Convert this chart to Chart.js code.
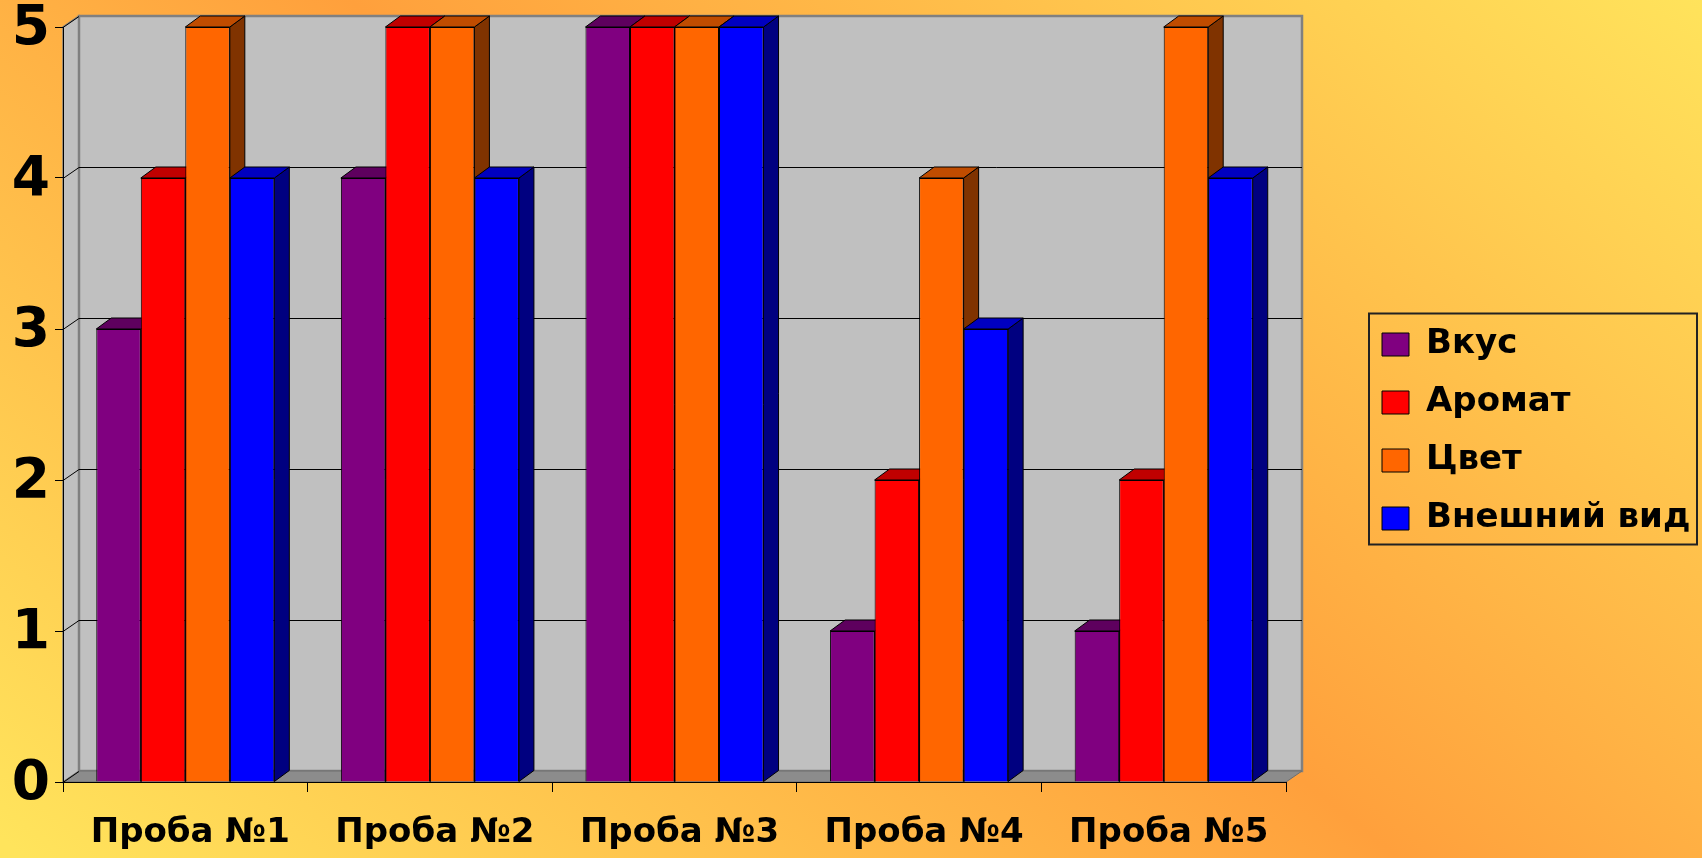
<!DOCTYPE html>
<html>
<head>
<meta charset="utf-8">
<script src="https://cdn.jsdelivr.net/npm/chart.js@4"></script>
<style>
html,body{margin:0;padding:0;overflow:hidden;background:#FFC04A;}
#wrap{width:1702px;height:858px;position:relative;}
</style>
</head>
<body>
<div id="wrap"><canvas id="c"></canvas></div>
<script>
// ---- data ----
const categories = ['Проба №1', 'Проба №2', 'Проба №3', 'Проба №4', 'Проба №5'];
const seriesNames = ['Вкус', 'Аромат', 'Цвет', 'Внешний вид'];
const tasteValues = [3, 4, 5, 1, 1];
const aromaValues = [4, 5, 5, 2, 2];
const colourValues = [5, 5, 5, 4, 5];
const appearanceValues = [4, 4, 5, 3, 4];
const yTickLabels = ['0', '1', '2', '3', '4', '5'];

// ---- styles / layout ----
const frontColors = ['#800080', '#FF0000', '#FF6600', '#0000FF'];
const topColors = ['#5E005E', '#C00000', '#C04C00', '#0000C0'];
const sideColors = ['#400040', '#800000', '#803300', '#000080'];
const WALL = {dx: 16, dy: -11};
const BAR = {dx: 15, dy: -11};
const FONT = 'DejaVu Sans';
const LEGEND_SPACE = 416;  // room kept at the right for the gap + legend
const LEGEND_SHIFT = 72;   // gap between the plot and the legend column

const seriesValues = [tasteValues, aromaValues, colourValues, appearanceValues];

const scene3d = {
  id: 'scene3d',
  beforeUpdate(chart) {
    const lg = chart.legend;
    if (lg && !lg.__wrapped) {
      const orig = lg.fit;
      lg.fit = function () {
        orig.call(this);
        if (!this.isHorizontal()) this.width = LEGEND_SPACE;
      };
      lg.__wrapped = true;
    }
  },
  afterLayout(chart) {
    const lg = chart.legend;
    if (lg) { lg.left += LEGEND_SHIFT; lg.right += LEGEND_SHIFT; }
  },
  beforeDraw(chart) {
    const {ctx, width, height, chartArea} = chart;
    const ys = chart.scales.y;
    ctx.save();
    // background gradient
    const g = ctx.createLinearGradient(-201, 673, 901, -673);
    g.addColorStop(0, '#FFE45C');
    g.addColorStop(0.5, '#FFA03C');
    g.addColorStop(1, '#FFE45C');
    ctx.fillStyle = g;
    ctx.fillRect(0, 0, width, height);

    const L = chartArea.left, R = chartArea.right;
    const T = ys.getPixelForValue(ys.max), B = ys.getPixelForValue(ys.min);
    const dx = WALL.dx, dy = WALL.dy;
    // side wall
    ctx.beginPath();
    ctx.moveTo(L, B); ctx.lineTo(L, T); ctx.lineTo(L + dx, T + dy); ctx.lineTo(L + dx, B + dy); ctx.closePath();
    ctx.fillStyle = '#C0C0C0'; ctx.fill();
    ctx.strokeStyle = '#808080'; ctx.lineWidth = 1.5; ctx.stroke();
    // back wall
    ctx.fillStyle = '#C0C0C0';
    ctx.fillRect(L + dx, T + dy, R - L, B - T);
    ctx.strokeStyle = '#808080'; ctx.lineWidth = 2.5;
    ctx.strokeRect(L + dx, T + dy, R - L, B - T);
    // floor
    ctx.beginPath();
    ctx.moveTo(L, B); ctx.lineTo(L + dx, B + dy); ctx.lineTo(R + dx, B + dy); ctx.lineTo(R, B); ctx.closePath();
    ctx.fillStyle = '#8C8C8C'; ctx.fill();
    ctx.strokeStyle = '#6E6E6E'; ctx.lineWidth = 1; ctx.stroke();
    // grid lines on the walls
    ctx.strokeStyle = '#000'; ctx.lineWidth = 1;
    ys.ticks.forEach(t => {
      const py = Math.round(ys.getPixelForValue(t.value)) + 0.5;
      ctx.beginPath();
      ctx.moveTo(L, py); ctx.lineTo(L + dx, py + dy);
      if (t.value > ys.min && t.value < ys.max) ctx.lineTo(R + dx, py + dy);
      ctx.stroke();
    });
    ctx.restore();
  },
  beforeDatasetsDraw(chart) {
    const ctx = chart.ctx;
    ctx.save();
    ctx.strokeStyle = '#000';
    ctx.lineWidth = 1;
    ctx.lineJoin = 'round';
    chart.data.datasets.forEach((ds, di) => {
      const meta = chart.getDatasetMeta(di);
      meta.data.forEach(el => {
        const {x, y, base, width} = el.getProps(['x', 'y', 'base', 'width'], true);
        const l = x - width / 2, r = x + width / 2;
        // side face
        ctx.beginPath();
        ctx.moveTo(r, y); ctx.lineTo(r + BAR.dx, y + BAR.dy);
        ctx.lineTo(r + BAR.dx, base + BAR.dy); ctx.lineTo(r, base); ctx.closePath();
        ctx.fillStyle = sideColors[di]; ctx.fill(); ctx.stroke();
        // top face
        ctx.beginPath();
        ctx.moveTo(l, y); ctx.lineTo(l + BAR.dx, y + BAR.dy);
        ctx.lineTo(r + BAR.dx, y + BAR.dy); ctx.lineTo(r, y); ctx.closePath();
        ctx.fillStyle = topColors[di]; ctx.fill(); ctx.stroke();
      });
    });
    ctx.restore();
  },
  afterDraw(chart) {
    const lg = chart.legend;
    if (!lg || !lg.legendHitBoxes || !lg.legendHitBoxes.length) return;
    const hb = lg.legendHitBoxes;
    const first = hb[0], last = hb[hb.length - 1];
    const ctx = chart.ctx;
    ctx.save();
    ctx.strokeStyle = '#222';
    ctx.lineWidth = 2;
    const x0 = first.left - 13, y0 = first.top - 14;
    const x1 = chart.width - 5, y1 = last.top + last.height + 9;
    ctx.strokeRect(x0, y0, x1 - x0, y1 - y0);
    ctx.restore();
  }
};

new Chart(document.getElementById('c'), {
  type: 'bar',
  data: {
    labels: categories,
    datasets: seriesNames.map((name, i) => ({
      label: name,
      data: seriesValues[i],
      backgroundColor: frontColors[i],
      borderColor: '#000',
      borderWidth: 1,
      categoryPercentage: 0.728,
      barPercentage: 1.0
    }))
  },
  options: {
    responsive: true,
    maintainAspectRatio: false,
    animation: false,
    devicePixelRatio: 1,
    layout: {padding: {left: 0, right: 0, top: 5, bottom: 0}},
    plugins: {
      legend: {
        position: 'right',
        align: 'center',
        labels: {
          font: {family: FONT, weight: 'bold', size: 34},
          color: '#000',
          boxWidth: 27,
          boxHeight: 23,
          padding: 24
        }
      },
      tooltip: {enabled: false}
    },
    scales: {
      x: {
        offset: true,
        grid: {display: true, drawOnChartArea: false, drawTicks: true, tickLength: 10, color: '#000', offset: true},
        border: {display: true, color: '#000', width: 1},
        ticks: {font: {family: FONT, weight: 'bold', size: 34, lineHeight: 1}, color: '#000', padding: 24, labelOffset: 5, maxRotation: 0, autoSkip: false},
        afterFit(s) { s.height = 76; s.paddingLeft = 0; s.paddingRight = 0; }
      },
      y: {
        min: 0,
        max: 5,
        ticks: {
          stepSize: 1,
          font: {family: FONT, weight: 'bold', size: 55, lineHeight: 1},
          color: '#000',
          padding: 5,
          labelOffset: 3,
          callback: (v) => yTickLabels[v] !== undefined ? yTickLabels[v] : ''
        },
        grid: {display: true, drawOnChartArea: false, tickLength: 8, color: '#000'},
        border: {display: true, color: '#000', width: 1},
        afterFit(s) { s.width = 63; s.paddingTop = 27; s.paddingBottom = 0; }
      }
    }
  },
  plugins: [scene3d]
});
</script>
</body>
</html>
